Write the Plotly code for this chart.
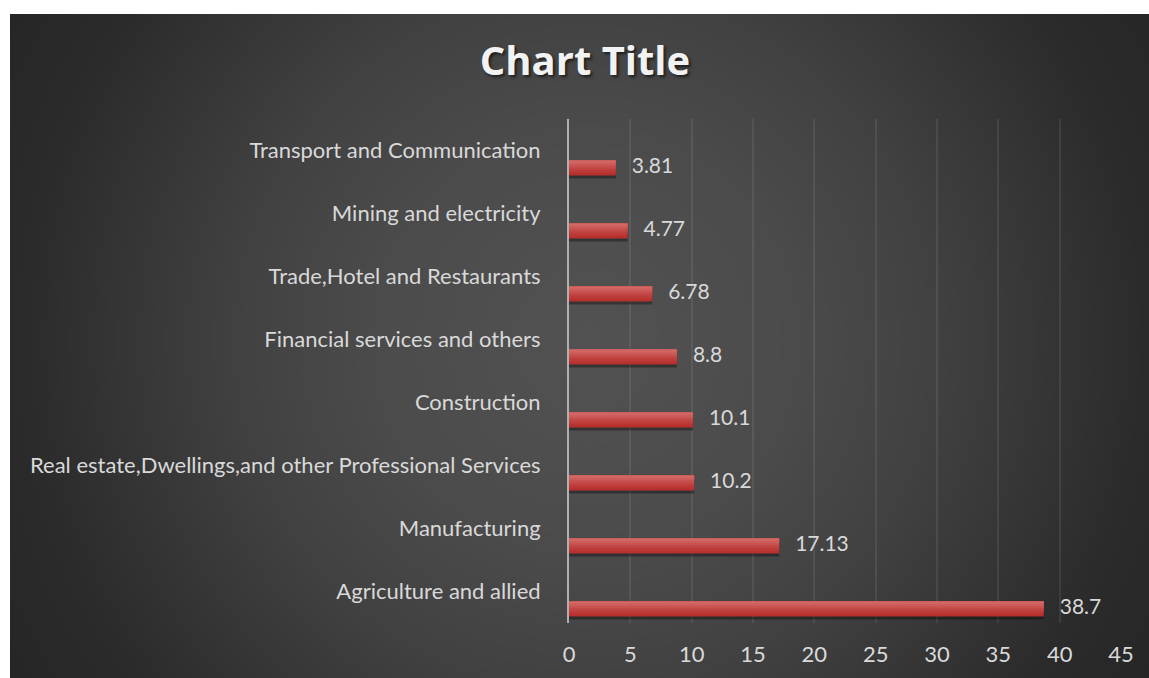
import numpy as np
import plotly.graph_objects as go

# ---- data ----
categories = [
    "Agriculture and allied",
    "Manufacturing",
    "Real estate,Dwellings,and other Professional Services",
    "Construction",
    "Financial services and others",
    "Trade,Hotel and Restaurants",
    "Mining and electricity",
    "Transport and Communication",
]
values = [38.7, 17.13, 10.2, 10.1, 8.8, 6.78, 4.77, 3.81]
x_ticks = [0, 5, 10, 15, 20, 25, 30, 35, 40, 45]

W, H = 1149, 678
FONT = "Lato"
LABEL_COLOR = "#d9d9d9"

# plot-area placement (pixels)
PX_LEFT, PX_RIGHT = 569, 1121
PX_TOP, PX_BOTTOM = 119, 623
BOX_LEFT, BOX_TOP = 10, 14

# bar geometry inside each category band (category units)
BAR_OFFSET = -0.395
BAR_WIDTH = 0.235
BAR_CENTER = BAR_OFFSET + BAR_WIDTH / 2

pos = list(range(len(categories)))

fig = go.Figure()

# radial dark background behind the chart
gx = np.linspace(BOX_LEFT, W, 90)
gy = np.linspace(BOX_TOP, H, 60)
XX, YY = np.meshgrid(gx, gy)
cx, cy = 585, 340
rr = np.sqrt((XX - cx) ** 2 + (YY - cy) ** 2) / 700.0
fig.add_trace(go.Heatmap(
    x=gx, y=gy, z=np.clip(rr, 0, 1), zmin=0, zmax=1, zsmooth="best",
    colorscale=[[0, "#525252"], [0.3, "#4b4b4b"], [0.5, "#414141"],
                [0.8, "#2b2b2b"], [1, "#242424"]],
    showscale=False, hoverinfo="skip", xaxis="x", yaxis="y",
))

# bar shadow
fig.add_trace(go.Bar(
    x=values, y=pos, orientation="h", xaxis="x2", yaxis="y2",
    offset=BAR_OFFSET - 0.05, width=BAR_WIDTH,
    marker=dict(color="rgba(0,0,0,0.35)", line=dict(width=0)),
    hoverinfo="skip", showlegend=False,
))
# main bar body plus lighter upper strips for a soft vertical gradient
strips = [
    (0.0, 1.0, "#b8312e"),
    (0.2, 0.8, "#bd3b38"),
    (0.38, 0.62, "#c24643"),
    (0.55, 0.45, "#c8524f"),
    (0.7, 0.30, "#cd5d5b"),
    (0.85, 0.15, "#d26866"),
]
for start, frac, color in strips:
    fig.add_trace(go.Bar(
        x=values, y=pos, orientation="h", xaxis="x2", yaxis="y2",
        offset=BAR_OFFSET + BAR_WIDTH * start, width=BAR_WIDTH * frac,
        marker=dict(color=color, line=dict(width=0)),
        showlegend=False, hoverinfo="x+text", hovertext=categories,
    ))

# value labels to the right of each bar
fig.add_trace(go.Scatter(
    x=values, y=[p + BAR_CENTER for p in pos], xaxis="x2", yaxis="y2",
    mode="markers+text", text=[f"{v:g}" for v in values],
    textposition="middle right",
    textfont=dict(family=FONT, size=21, color=LABEL_COLOR),
    marker=dict(size=24, color="rgba(0,0,0,0)"),
    hoverinfo="skip", showlegend=False, cliponaxis=False,
))

fig.update_layout(
    width=W, height=H,
    margin=dict(l=0, r=0, t=0, b=0, autoexpand=False),
    paper_bgcolor="white",
    plot_bgcolor="rgba(0,0,0,0)",
    barmode="overlay",
    showlegend=False,
    title=dict(
        text="<b>Chart Title</b>",
        x=585 / W, xanchor="center",
        y=1 - 61 / H, yanchor="middle",
        font=dict(family="Open Sans", size=40, color="#f2f2f2",
                  shadow="2px 2px 3px rgba(0,0,0,0.6)"),
    ),
    xaxis=dict(domain=[BOX_LEFT / W, 1], range=[BOX_LEFT, W], visible=False,
               fixedrange=True, automargin=False),
    yaxis=dict(domain=[0, 1 - BOX_TOP / H], range=[H, BOX_TOP], visible=False,
               fixedrange=True, automargin=False),
    xaxis2=dict(
        domain=[PX_LEFT / W, PX_RIGHT / W], anchor="y2",
        range=[0, 45], tickvals=x_ticks,
        showgrid=True, gridcolor="rgba(255,255,255,0.08)", gridwidth=2,
        zeroline=False, showline=False, ticks="",
        tickfont=dict(family=FONT, size=22, color=LABEL_COLOR),
        ticklabelstandoff=16, automargin=False,
    ),
    yaxis2=dict(
        domain=[(H - PX_BOTTOM) / H, (H - PX_TOP) / H], anchor="x2",
        range=[-0.5, len(categories) - 0.5],
        tickvals=pos, ticktext=categories,
        showgrid=False, zeroline=False,
        showline=True, linecolor="#b0b0b0", linewidth=2,
        ticks="", ticklabelstandoff=22, automargin=False,
        tickfont=dict(family=FONT, size=22, color=LABEL_COLOR),
    ),
)

fig.write_html("out.html")
